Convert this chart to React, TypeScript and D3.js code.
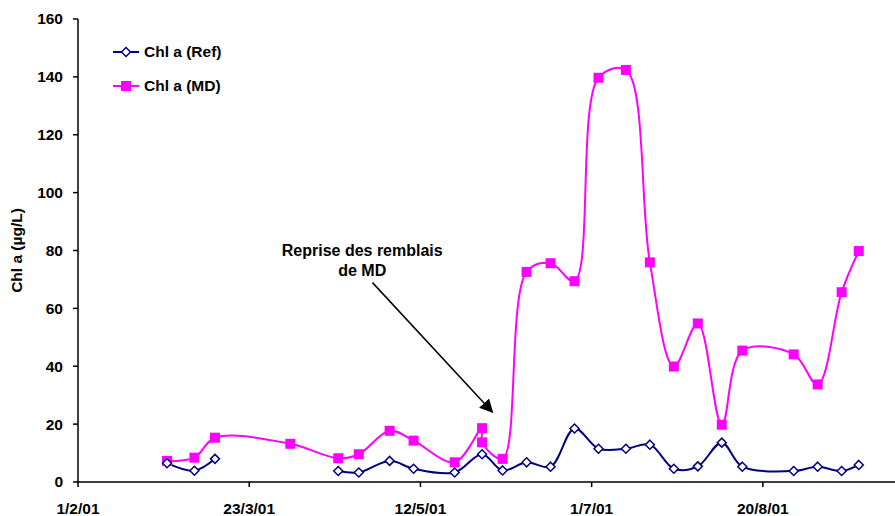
import * as d3 from 'd3';

const parseDate = d3.timeParse('%d/%m/%y');

// sampling dates (d/m/yy)
const refDates = [
  '27/2/01', '7/3/01', '13/3/01', '4/4/01', '18/4/01', '24/4/01', '3/5/01', '10/5/01',
  '22/5/01', '30/5/01', '5/6/01', '12/6/01', '19/6/01', '26/6/01', '3/7/01', '11/7/01',
  '18/7/01', '25/7/01', '1/8/01', '8/8/01', '14/8/01', '29/8/01', '5/9/01', '12/9/01', '17/9/01',
];
// Chl a (Ref), null = no sample (line breaks)
const refValues = [
  6.5, 3.9, 8.0, null, 3.8, 3.3, 7.3, 4.6,
  3.3, 9.6, 4.0, 6.8, 5.3, 18.5, 11.5, 11.5,
  12.9, 4.6, 5.4, 13.6, 5.3, 3.8, 5.3, 3.8, 5.9,
];

const mdDates = [
  '27/2/01', '7/3/01', '13/3/01', '4/4/01', '18/4/01', '24/4/01', '3/5/01', '10/5/01',
  '22/5/01', '30/5/01', '30/5/01', '5/6/01', '12/6/01', '19/6/01', '26/6/01', '3/7/01',
  '11/7/01', '18/7/01', '25/7/01', '1/8/01', '8/8/01', '14/8/01', '29/8/01', '5/9/01',
  '12/9/01', '17/9/01',
];
// Chl a (MD)
const mdValues = [
  7.3, 8.4, 15.3, 13.2, 8.2, 9.6, 17.7, 14.3,
  6.8, 18.6, 13.7, 8.0, 72.6, 75.6, 69.4, 139.7,
  142.4, 75.9, 39.9, 54.8, 19.8, 45.4, 44.1, 33.7,
  65.6, 79.8,
];

const xTickLabels = ['1/2/01', '23/3/01', '12/5/01', '1/7/01', '20/8/01'];
const yTicks = [0, 20, 40, 60, 80, 100, 120, 140, 160];

const W = 895;
const H = 516;
const margin = { top: 19, right: 2, bottom: 34, left: 78 };
const font = '"Liberation Sans", Arial, sans-serif';
const fs = 15.5;

type Pt = { date: Date; value: number | null };

function App() {
  const x = d3
    .scaleTime()
    .domain([parseDate('1/2/01') as Date, parseDate('27/9/01') as Date])
    .range([margin.left, W - margin.right]);
  const y = d3.scaleLinear().domain([0, 160]).range([H - margin.bottom, margin.top]);

  const ref: Pt[] = refDates.map((d, i) => ({ date: parseDate(d) as Date, value: refValues[i] }));
  const md: Pt[] = mdDates.map((d, i) => ({ date: parseDate(d) as Date, value: mdValues[i] }));

  const line = d3
    .line<Pt>()
    .defined((d) => d.value !== null)
    .x((d) => x(d.date))
    .y((d) => y(d.value as number))
    .curve(d3.curveCatmullRom.alpha(0.5));

  const x0 = margin.left;
  const y0 = H - margin.bottom;

  // annotation arrow, in data space
  const arrowFrom = { date: parseDate('28/4/01') as Date, value: 68.9 };
  const arrowTo = { date: parseDate('2/6/01') as Date, value: 24.2 };
  const labelAt = { date: parseDate('25/4/01') as Date, value: 78 };

  const diamond = (cx: number, cy: number, r: number) =>
    `M${cx},${cy - r}L${cx + r},${cy}L${cx},${cy + r}L${cx - r},${cy}Z`;

  return (
    <div style={{ position: 'absolute', left: 0, top: 0 }}>
      <svg width={W} height={H} style={{ display: 'block', fontFamily: font }}>
        <defs>
          <marker id="arrow" viewBox="0 0 10 10" refX="9" refY="5" markerWidth="9" markerHeight="9" orient="auto">
            <path d="M0,0L10,5L0,10Z" fill="#000" />
          </marker>
        </defs>
        <rect width={W} height={H} fill="#fff" />

        {/* y axis */}
        <line x1={x0} x2={x0} y1={margin.top} y2={y0} stroke="#000" strokeWidth={1.5} />
        {yTicks.map((t) => (
          <g key={t}>
            <line x1={x0 - 5} x2={x0} y1={y(t)} y2={y(t)} stroke="#000" strokeWidth={1.5} />
            <text x={x0 - 15} y={y(t)} dy="0.35em" textAnchor="end" fontSize={fs} fontWeight="bold">
              {t}
            </text>
          </g>
        ))}
        <text
          transform={`translate(22,${(margin.top + y0) / 2}) rotate(-90)`}
          textAnchor="middle"
          fontSize={fs}
          fontWeight="bold"
        >
          Chl a (µg/L)
        </text>

        {/* x axis */}
        <line x1={x0} x2={W} y1={y0} y2={y0} stroke="#000" strokeWidth={1.5} />
        {xTickLabels.map((t) => {
          const px = x(parseDate(t) as Date);
          return (
            <g key={t}>
              <line x1={px} x2={px} y1={y0} y2={y0 + 5} stroke="#000" strokeWidth={1.5} />
              <text x={px} y={y0 + 32} textAnchor="middle" fontSize={fs} fontWeight="bold">
                {t}
              </text>
            </g>
          );
        })}

        {/* series */}
        <path d={line(md) ?? ''} fill="none" stroke="#FF00FF" strokeWidth={2} />
        <path d={line(ref) ?? ''} fill="none" stroke="#000080" strokeWidth={2} />
        {md.map((d, i) => (
          <rect
            key={i}
            x={x(d.date) - 5}
            y={y(d.value as number) - 5}
            width={10}
            height={10}
            fill="#FF00FF"
          />
        ))}
        {ref
          .filter((d) => d.value !== null)
          .map((d, i) => (
            <path
              key={i}
              d={diamond(x(d.date), y(d.value as number), 4.5)}
              fill="#fff"
              stroke="#000080"
              strokeWidth={1.5}
            />
          ))}

        {/* legend */}
        <line x1={113} x2={139} y1={52} y2={52} stroke="#000080" strokeWidth={2} />
        <path d={diamond(126, 52, 4.5)} fill="#fff" stroke="#000080" strokeWidth={1.5} />
        <text x={144} y={52} dy="0.35em" fontSize={fs} fontWeight="bold">
          Chl a (Ref)
        </text>
        <line x1={113} x2={139} y1={86} y2={86} stroke="#FF00FF" strokeWidth={2} />
        <rect x={121} y={81} width={10} height={10} fill="#FF00FF" />
        <text x={144} y={86} dy="0.35em" fontSize={fs} fontWeight="bold">
          Chl a (MD)
        </text>

        {/* annotation */}
        <text
          x={x(labelAt.date)}
          y={y(labelAt.value)}
          textAnchor="middle"
          fontSize={16}
          fontWeight="bold"
        >
          <tspan x={x(labelAt.date)}>Reprise des remblais</tspan>
          <tspan x={x(labelAt.date)} dy={20}>
            de MD
          </tspan>
        </text>
        <line
          x1={x(arrowFrom.date)}
          y1={y(arrowFrom.value)}
          x2={x(arrowTo.date)}
          y2={y(arrowTo.value)}
          stroke="#000"
          strokeWidth={1.5}
          markerEnd="url(#arrow)"
        />
      </svg>
    </div>
  );
}

export default App;
